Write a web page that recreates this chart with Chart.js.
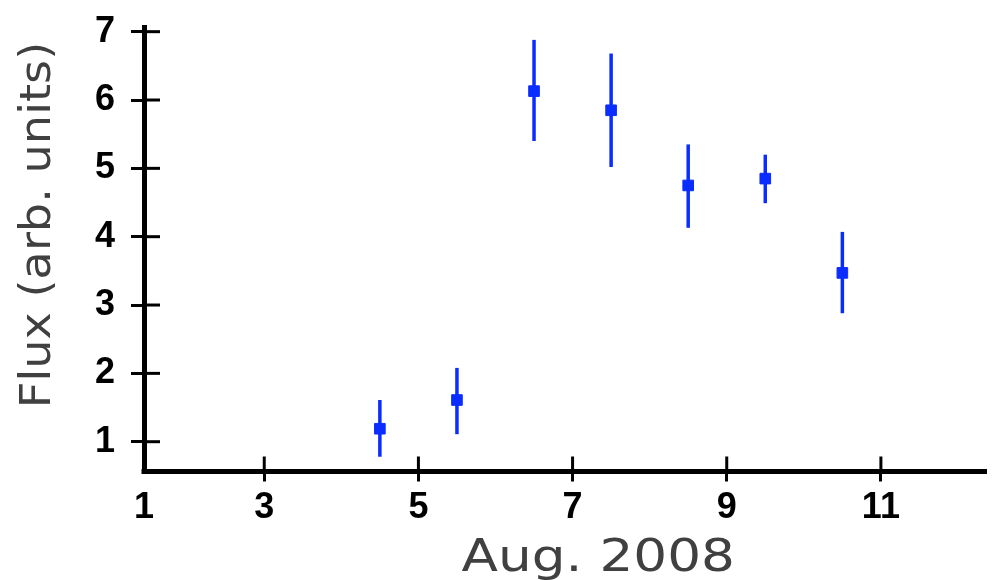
<!DOCTYPE html>
<html>
<head>
<meta charset="utf-8">
<title>Flux, Aug. 2008</title>
<script src="https://cdn.jsdelivr.net/npm/chart.js@4.4.0/dist/chart.umd.min.js"></script>
<style>
  html, body { margin: 0; padding: 0; background: #fff; }
  canvas { display: block; }
</style>
</head>
<body>
<canvas id="fluxChart" width="995" height="580"></canvas>
<script>
// day of Aug. 2008 (bin centres) and flux with error range
const days = [4.5, 5.5, 6.5, 7.5, 8.5, 9.5, 10.5];
const flux = [1.19, 1.61, 6.13, 5.85, 4.75, 4.85, 3.47];
const fluxLow = [0.78, 1.11, 5.40, 5.02, 4.13, 4.49, 2.88];
const fluxHigh = [1.61, 2.08, 6.88, 6.68, 5.35, 5.20, 4.07];

// the original figure puts its "1" label right at the axis corner
const xTickValues = [1.44, 3, 5, 7, 9, 11];
const xTickLabels = ['1', '3', '5', '7', '9', '11'];
const yTickValues = [1, 2, 3, 4, 5, 6, 7];

const xTitle = 'Aug. 2008';
const yTitle = 'Flux (arb. units)';

const blue = '#0a2cff';
const titleGrey = '#404040';
const tickFont = { family: '"Liberation Sans", Arial, sans-serif', size: 36, weight: 'bold' };

const errorBars = {
  id: 'errorBars',
  beforeDatasetsDraw(chart) {
    const ctx = chart.ctx;
    const xs = chart.scales.x;
    const ys = chart.scales.y;
    ctx.save();
    ctx.strokeStyle = blue;
    ctx.lineWidth = 3.5;
    for (let i = 0; i < days.length; i++) {
      const px = xs.getPixelForValue(days[i]);
      ctx.beginPath();
      ctx.moveTo(px, ys.getPixelForValue(fluxLow[i]));
      ctx.lineTo(px, ys.getPixelForValue(fluxHigh[i]));
      ctx.stroke();
    }
    ctx.restore();
  }
};

// tick marks in the original cross the axis, chart.js only draws the outer half
const innerTicks = {
  id: 'innerTicks',
  afterDraw(chart) {
    const ctx = chart.ctx;
    const area = chart.chartArea;
    const xs = chart.scales.x;
    const ys = chart.scales.y;
    ctx.save();
    ctx.strokeStyle = '#000';
    ctx.lineWidth = 3;
    ys.ticks.forEach((t) => {
      const py = ys.getPixelForValue(t.value);
      ctx.beginPath();
      ctx.moveTo(area.left, py);
      ctx.lineTo(area.left + 16, py);
      ctx.stroke();
    });
    xs.ticks.forEach((t, i) => {
      if (i === 0) return;
      const px = xs.getPixelForValue(t.value);
      ctx.beginPath();
      ctx.moveTo(px, area.bottom);
      ctx.lineTo(px, area.bottom - 15);
      ctx.stroke();
    });
    // square off the corner
    ctx.fillStyle = '#000';
    ctx.fillRect(area.left - 2.5, area.bottom - 2.5, 5, 5);
    ctx.restore();
  }
};

// axis titles use a wide grey font, so they are stretched a bit
const axisTitles = {
  id: 'axisTitles',
  afterDraw(chart) {
    const ctx = chart.ctx;
    const area = chart.chartArea;
    ctx.save();
    ctx.fillStyle = titleGrey;
    ctx.textAlign = 'center';
    ctx.textBaseline = 'alphabetic';

    ctx.save();
    ctx.font = '44px "DejaVu Sans"';
    ctx.translate((area.left + area.right) / 2 + 33, chart.height - 9.5);
    ctx.scale(1.21, 1);
    ctx.fillText(xTitle, 0, 0);
    ctx.restore();

    ctx.save();
    ctx.font = '42px "DejaVu Sans"';
    ctx.translate(50, 225);
    ctx.rotate(-Math.PI / 2);
    ctx.scale(1.1, 1);
    ctx.fillText(yTitle, 0, 0);
    ctx.restore();

    ctx.restore();
  }
};

new Chart(document.getElementById('fluxChart'), {
  type: 'scatter',
  data: {
    datasets: [{
      data: days.map((d, i) => ({ x: d, y: flux[i] })),
      pointStyle: 'rect',
      pointRadius: 7.5,
      pointHoverRadius: 7.5,
      backgroundColor: blue,
      borderColor: blue,
      borderWidth: 1
    }]
  },
  options: {
    responsive: false,
    animation: false,
    devicePixelRatio: 1,
    layout: { padding: { top: 27.3, right: 0, bottom: 0, left: 0 } },
    plugins: {
      legend: { display: false },
      tooltip: { enabled: false }
    },
    scales: {
      x: {
        type: 'linear',
        min: xTickValues[0],
        max: 12.37,
        afterBuildTicks: (scale) => { scale.ticks = xTickValues.map((v) => ({ value: v })); },
        afterFit: (scale) => {
          scale.height = 108.5;
          scale.paddingLeft = 0;
          scale.paddingRight = 0;
        },
        ticks: {
          callback: (value, index) => xTickLabels[index],
          font: tickFont,
          color: '#000',
          padding: 5,
          maxRotation: 0,
          autoSkip: false
        },
        grid: {
          drawOnChartArea: false,
          tickLength: 10,
          tickWidth: 3,
          tickColor: (c) => (c.index === 0 ? 'rgba(0,0,0,0)' : '#000')
        },
        border: { display: true, color: '#000', width: 5 }
      },
      y: {
        type: 'linear',
        min: 0.564,
        max: 7.064,
        afterBuildTicks: (scale) => { scale.ticks = yTickValues.map((v) => ({ value: v })); },
        afterFit: (scale) => {
          scale.width = 144;
          scale.paddingTop = 0;
          scale.paddingBottom = 0;
        },
        ticks: {
          font: tickFont,
          color: '#000',
          padding: 16,
          autoSkip: false
        },
        grid: {
          drawOnChartArea: false,
          tickLength: 13,
          tickWidth: 3,
          tickColor: '#000'
        },
        border: { display: true, color: '#000', width: 5 }
      }
    }
  },
  plugins: [errorBars, innerTicks, axisTitles]
});
</script>
</body>
</html>
